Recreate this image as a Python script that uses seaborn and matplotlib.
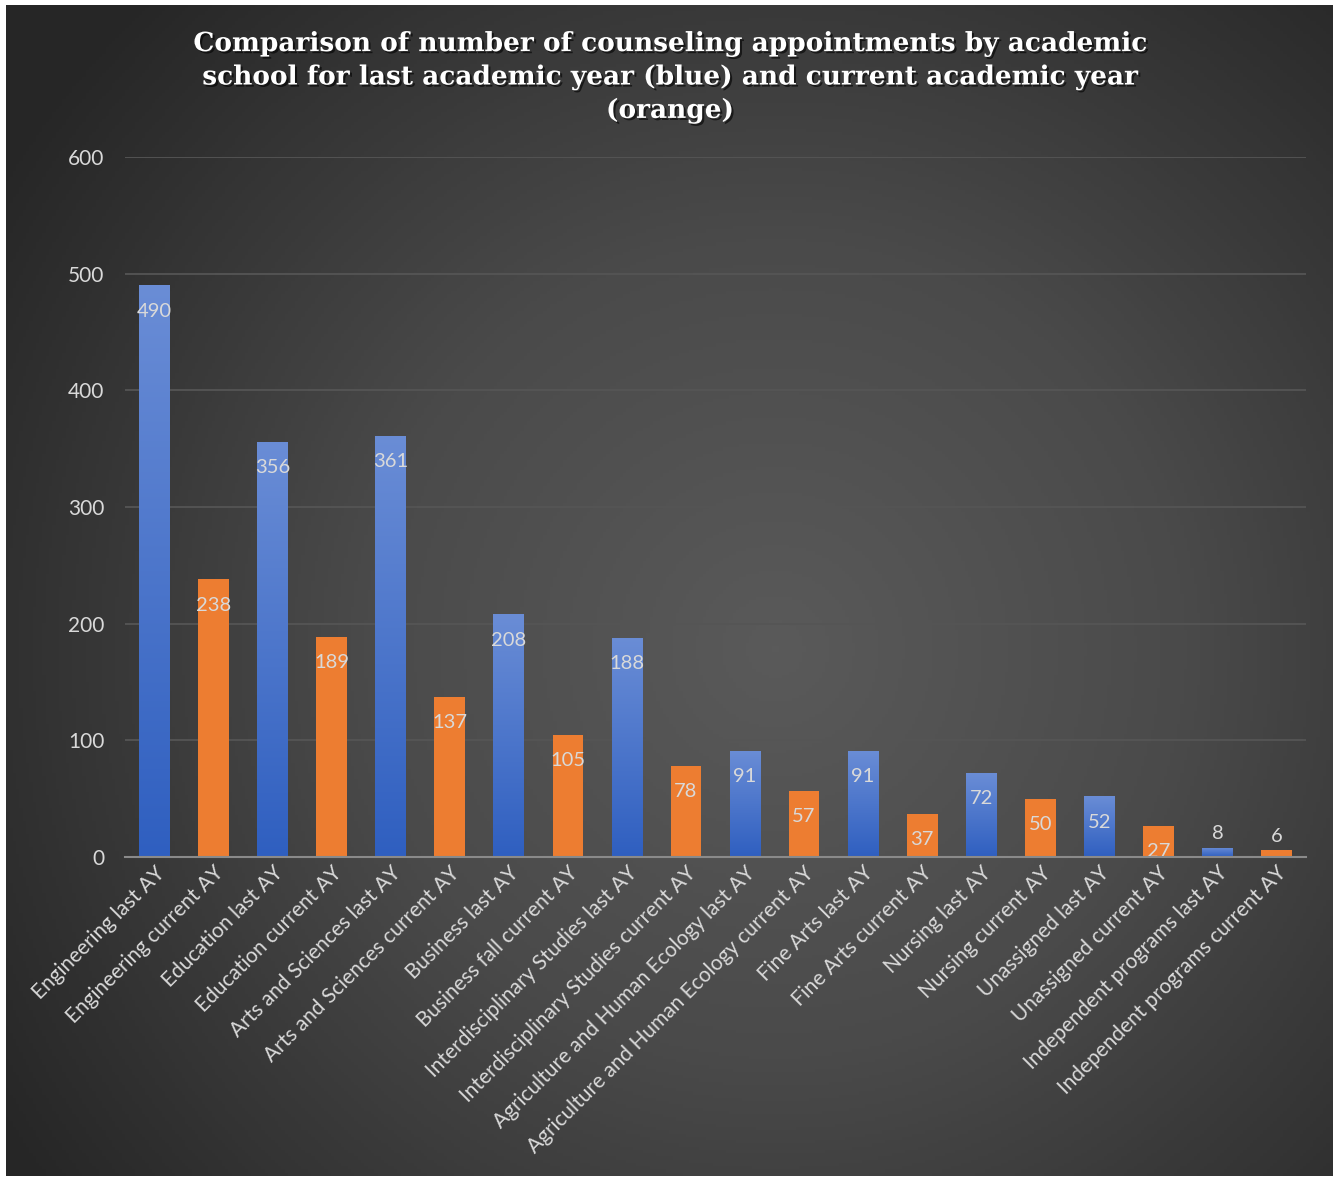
import numpy as np
import pandas as pd
import matplotlib
matplotlib.use("Agg")
import matplotlib.pyplot as plt
import matplotlib.patheffects as pe
from matplotlib.colors import LinearSegmentedColormap
import seaborn as sns

categories = [
    "Engineering last AY", "Engineering current AY",
    "Education last AY", "Education current AY",
    "Arts and Sciences last AY", "Arts and Sciences current AY",
    "Business last AY", "Business fall current AY",
    "Interdisciplinary Studies last AY", "Interdisciplinary Studies current AY",
    "Agriculture and Human Ecology last AY", "Agriculture and Human Ecology current AY",
    "Fine Arts last AY", "Fine Arts current AY",
    "Nursing last AY", "Nursing current AY",
    "Unassigned last AY", "Unassigned current AY",
    "Independent programs last AY", "Independent programs current AY",
]
values = [490, 238, 356, 189, 361, 137, 208, 105, 188, 78,
          91, 57, 91, 37, 72, 50, 52, 27, 8, 6]
series = ["last", "current"] * 10
y_ticks = [0, 100, 200, 300, 400, 500, 600]
title = ("Comparison of number of counseling appointments by academic\n"
         "school for last academic year (blue) and current academic year\n"
         "(orange)")

df = pd.DataFrame({"category": categories, "value": values, "series": series})

sns.set_theme(style="dark")
plt.rcParams["font.family"] = ["Lato", "DejaVu Sans"]

W, H = 1340, 1178
fig = plt.figure(figsize=(W / 100, H / 100), dpi=100, facecolor="white")

# background panel with radial gradient
bg = fig.add_axes([6 / W, 2 / H, 1327 / W, 1171 / H])
bg.set_axis_off()
nx, ny = 400, 360
xx, yy = np.meshgrid(np.linspace(0, 1, nx), np.linspace(0, 1, ny))
cx, cy = 0.58, 0.55
r = np.sqrt(((xx - cx) * 1.13) ** 2 + (yy - cy) ** 2)
r = np.clip(r / 0.78, 0, 1)
bg_cmap = LinearSegmentedColormap.from_list(
    "bgc", [(0, "#5a5a5a"), (0.45, "#4a4a4a"), (0.8, "#333333"), (1, "#262626")])
bg.imshow(r, cmap=bg_cmap, extent=[0, 1, 0, 1], origin="upper", aspect="auto", vmin=0, vmax=1)
bg.set_xlim(0, 1)
bg.set_ylim(0, 1)

ax = fig.add_axes([125 / W, 1 - 857 / H, 1181 / W, 700 / H])
ax.patch.set_alpha(0)

sns.barplot(data=df, x="category", y="value", hue="series",
            palette={"last": "#4472C4", "current": "#ED7D31"},
            dodge=False, width=0.52, legend=False, ax=ax, saturation=1,
            linewidth=0, edgecolor="none")

ax.set_ylim(0, 600)
ax.set_xlim(-0.5, len(categories) - 0.5)
ax.set_yticks(y_ticks)
ax.yaxis.grid(True, color="#555555", linewidth=1.3)
ax.set_axisbelow(True)
for s in ["top", "right", "left"]:
    ax.spines[s].set_visible(False)
ax.spines["bottom"].set_color("#8a8a8a")
ax.spines["bottom"].set_linewidth(1.5)
ax.spines["bottom"].set_zorder(6)
ax.set_xlabel("")
ax.set_ylabel("")
ax.tick_params(axis="y", colors="#d9d9d9", labelsize=15, length=0, pad=15)
ax.tick_params(axis="x", colors="#d9d9d9", labelsize=15, length=0, pad=4)
ax.set_xticks(range(len(categories)))
ax.set_xticklabels(categories, rotation=45, ha="right", rotation_mode="anchor")

# blue gradient fill for "last" bars
blue_cmap = LinearSegmentedColormap.from_list("bl", ["#2f5fc0", "#6a8dd6"])
grad = np.linspace(0, 1, 256).reshape(-1, 1)
for p in ax.patches:
    fc = p.get_facecolor()
    if fc[2] > fc[0]:
        x0, y0 = p.get_x(), p.get_y()
        w, h = p.get_width(), p.get_height()
        im = ax.imshow(grad, cmap=blue_cmap, extent=[x0, x0 + w, y0, y0 + h],
                       origin="lower", aspect="auto", zorder=p.get_zorder() + 0.1)
        im.set_clip_path(p)

ax.set_xlim(-0.5, len(categories) - 0.5)
ax.set_ylim(0, 600)

# data labels
for i, v in enumerate(values):
    if v >= 20:
        ax.annotate(str(v), (i, v), xytext=(0, -18.5), textcoords="offset points",
                    ha="center", va="center", color="#d9d9d9", fontsize=14.5, zorder=5)
    else:
        ax.annotate(str(v), (i, v), xytext=(0, 10), textcoords="offset points",
                    ha="center", va="center", color="#d9d9d9", fontsize=14.5, zorder=5)

fig.text(0.5, 1 - 77 / H, title, ha="center", va="center", color="white",
         fontsize=19, fontweight="bold", family=["DejaVu Serif"],
         linespacing=1.42,
         path_effects=[pe.withSimplePatchShadow(offset=(1.5, -1.5), shadow_rgbFace="black", alpha=0.6)])

fig.savefig("out.png", dpi=100, facecolor="white")
